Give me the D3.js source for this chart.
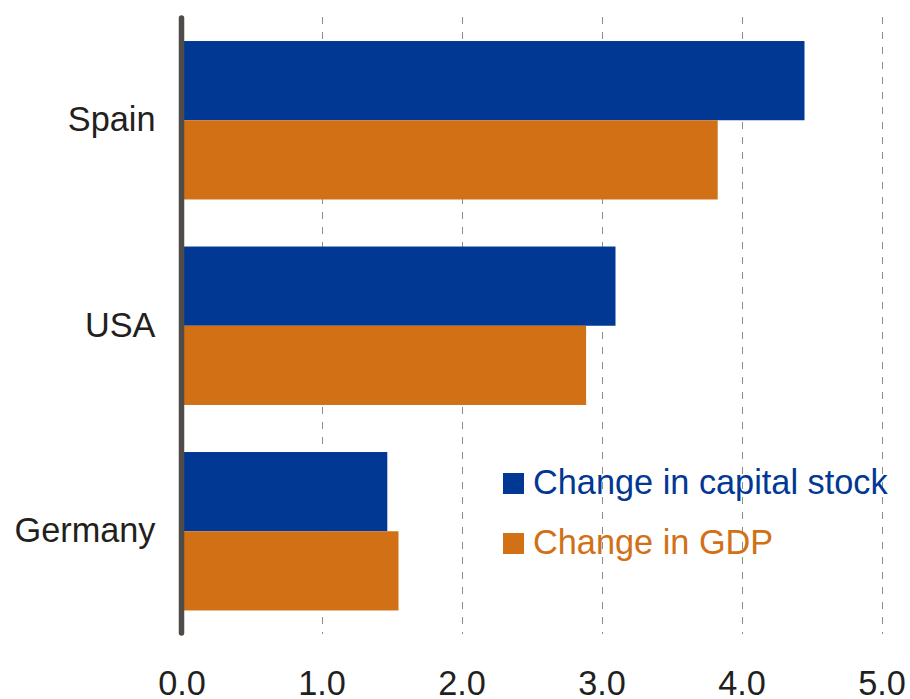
<!DOCTYPE html>
<html>
<head>
<meta charset="utf-8">
<script src="https://cdn.jsdelivr.net/npm/d3@7"></script>
<style>
  body { margin: 0; background: #fff; }
  svg text { font-family: 'Liberation Sans', Arial, sans-serif; }
</style>
</head>
<body>
<div id="chart"></div>
<script>
// data
const countries = ['Spain', 'USA', 'Germany']
const capitalStock = [4.45, 3.10, 1.47]
const gdp = [3.83, 2.89, 1.55]
const seriesNames = ['Change in capital stock', 'Change in GDP']
const tickValues = [0, 1, 2, 3, 4, 5]

const colors = ['#003893', '#d27016']

// sizes
const width = 910
const height = 699
const x0 = 181.5
const fontSize = '34.3px'

const svg = d3.select('#chart')
  .append('svg')
  .attr('width', width)
  .attr('height', height)

const x = d3.scaleLinear()
  .domain([0, 5])
  .range([x0, x0 + 700])

const y = d3.scaleBand()
  .domain(countries)
  .range([17.5, 634])
  .paddingInner(0.229)
  .paddingOuter(0.1145)

const sub = d3.scaleBand()
  .domain([0, 1])
  .range([0, y.bandwidth()])

// dashed grid
svg.append('g')
  .selectAll('line')
  .data(tickValues.slice(1))
  .enter().append('line')
  .attr('x1', d => Math.round(x(d)) + 0.5)
  .attr('x2', d => Math.round(x(d)) + 0.5)
  .attr('y1', 17)
  .attr('y2', 634)
  .style('stroke', '#8c8c8c')
  .style('stroke-width', 1)
  .style('stroke-dasharray', '7,8')

// bars
const rows = countries.map((c, i) => ({ country: c, values: [capitalStock[i], gdp[i]] }))

const groups = svg.append('g')
  .selectAll('g')
  .data(rows)
  .enter().append('g')
  .attr('transform', d => `translate(0,${y(d.country)})`)

groups.selectAll('rect')
  .data(d => d.values)
  .enter().append('rect')
  .attr('x', x(0))
  .attr('y', (d, i) => sub(i))
  .attr('width', d => x(d) - x(0))
  .attr('height', sub.bandwidth())
  .style('fill', (d, i) => colors[i])

// country labels
const yAxis = svg.append('g')
  .attr('transform', `translate(${x0},0)`)
  .call(d3.axisLeft(y).tickSize(0).tickPadding(26))
yAxis.select('.domain').remove()
yAxis.selectAll('text')
  .style('font-size', fontSize)
  .style('fill', '#231f20')

// value labels
const xAxis = svg.append('g')
  .attr('transform', 'translate(0,661)')
  .call(d3.axisBottom(x).tickValues(tickValues).tickFormat(d3.format('.1f')).tickSize(0).tickPadding(10))
xAxis.select('.domain').remove()
xAxis.selectAll('text')
  .style('font-size', fontSize)
  .style('fill', '#231f20')

// vertical axis line
svg.append('line')
  .attr('x1', x0)
  .attr('x2', x0)
  .attr('y1', 18)
  .attr('y2', 633)
  .style('stroke', '#4f4b49')
  .style('stroke-width', 5.5)
  .style('stroke-linecap', 'round')

// legend
const legend = svg.append('g')
  .selectAll('g')
  .data(seriesNames)
  .enter().append('g')
  .attr('transform', (d, i) => `translate(503,${473 + i * 60})`)

legend.append('rect')
  .attr('width', 21)
  .attr('height', 21)
  .style('fill', (d, i) => colors[i])

legend.append('text')
  .attr('x', 30)
  .attr('y', 21)
  .text(d => d)
  .style('font-size', fontSize)
  .style('fill', (d, i) => colors[i])
</script>
</body>
</html>
